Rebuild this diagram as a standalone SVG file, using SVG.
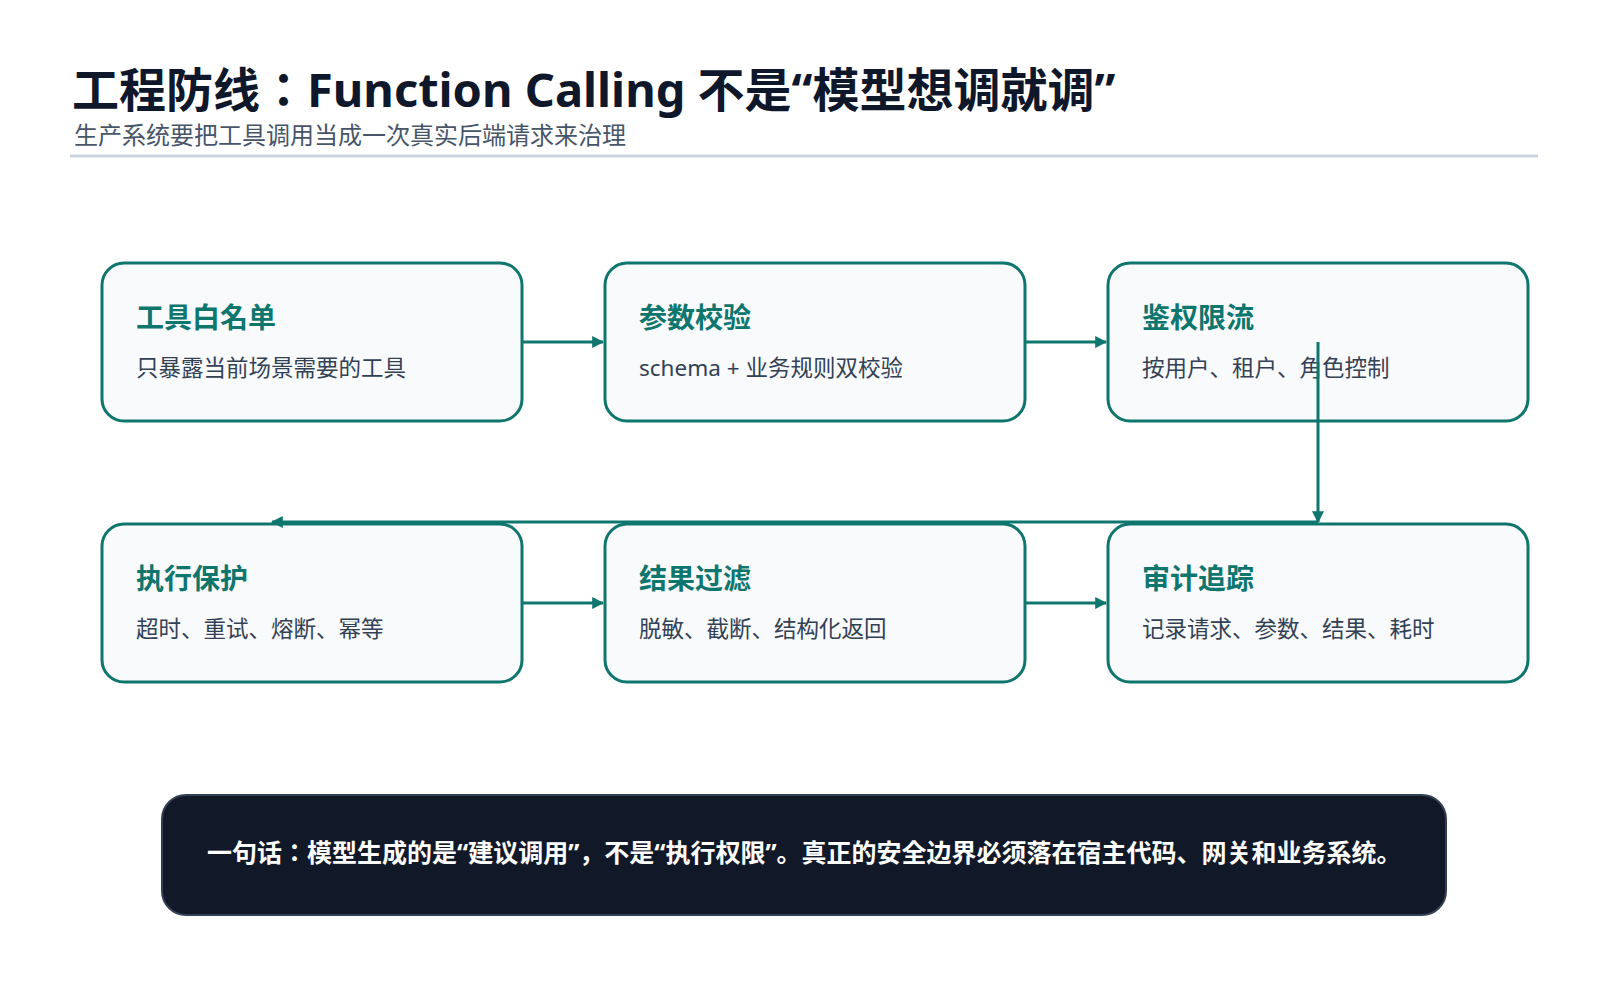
<svg xmlns="http://www.w3.org/2000/svg" width="1600" height="1000" viewBox="0 0 1600 1000">
<style>
text{font-family:"Noto Sans","Noto Sans CJK JP",sans-serif}
.box{fill:#f8fafc;stroke:#0f766e;stroke-width:3}
.t{font-size:28px;font-weight:700;fill:#0f766e}
.d{font-size:22.5px;fill:#334155}
.c{fill:none;stroke:#0f766e;stroke-width:3}
</style>
<defs>
<marker id="a" viewBox="0 0 10 10" refX="9" refY="5" markerWidth="4" markerHeight="4" orient="auto"><path d="M0,0L10,5L0,10z" fill="#0f766e"/></marker>
<clipPath id="bc"><rect x="162" y="795" width="1284" height="120" rx="24"/></clipPath>
</defs>
<rect width="1600" height="1000" fill="#fff"/>
<text x="72" y="107" font-size="47" font-weight="700" fill="#0f172a">工程防线：Function Calling 不是“模型想调就调”</text>
<text x="74" y="144" font-size="24" fill="#475569">生产系统要把工具调用当成一次真实后端请求来治理</text>
<line x1="70" y1="156" x2="1538" y2="156" stroke="#cbd5e1" stroke-width="3"/>
<g id="n1"><rect class="box" x="102" y="263" width="420" height="158" rx="22"/><text class="t" x="136" y="328">工具白名单</text><text class="d" x="136" y="376">只暴露当前场景需要的工具</text></g>
<g id="n2"><rect class="box" x="605" y="263" width="420" height="158" rx="22"/><text class="t" x="639" y="328">参数校验</text><text class="d" x="639" y="376">schema + 业务规则双校验</text></g>
<g id="n3"><rect class="box" x="1108" y="263" width="420" height="158" rx="22"/><text class="t" x="1142" y="328">鉴权限流</text><text class="d" x="1142" y="376">按用户、租户、角色控制</text></g>
<g id="n4"><rect class="box" x="102" y="524" width="420" height="158" rx="22"/><text class="t" x="136" y="589">执行保护</text><text class="d" x="136" y="637">超时、重试、熔断、幂等</text></g>
<g id="n5"><rect class="box" x="605" y="524" width="420" height="158" rx="22"/><text class="t" x="639" y="589">结果过滤</text><text class="d" x="639" y="637">脱敏、截断、结构化返回</text></g>
<g id="n6"><rect class="box" x="1108" y="524" width="420" height="158" rx="22"/><text class="t" x="1142" y="589">审计追踪</text><text class="d" x="1142" y="637">记录请求、参数、结果、耗时</text></g>
<g id="connectors">
<path class="c" d="M522,342H603" marker-end="url(#a)"/>
<path class="c" d="M1025,342H1106" marker-end="url(#a)"/>
<path class="c" d="M1318,342V522" marker-end="url(#a)"/>
<path class="c" d="M1318,522H272" marker-end="url(#a)"/>
<path class="c" d="M522,603H603" marker-end="url(#a)"/>
<path class="c" d="M1025,603H1106" marker-end="url(#a)"/>
</g>
<g id="banner">
<rect x="162" y="795" width="1284" height="120" rx="24" fill="#111827" stroke="#334155" stroke-width="2"/>
<text clip-path="url(#bc)" x="207" y="862" font-size="25" font-weight="700" fill="#fff">一句话：模型生成的是“建议调用”，不是“执行权限”。真正的安全边界必须落在宿主代码、网关和业务系统。</text>
</g>
</svg>
